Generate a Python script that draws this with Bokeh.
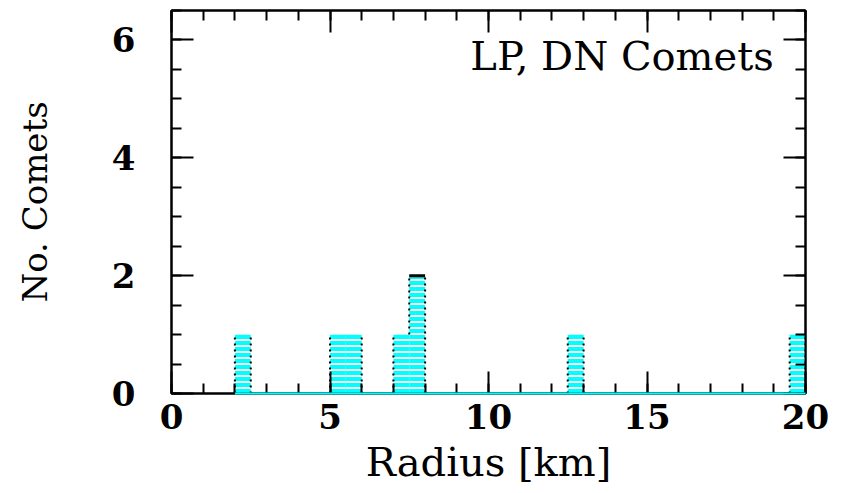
from bokeh.plotting import figure
from bokeh.models import LinearAxis, FixedTicker, Range1d, Label, ColumnDataSource
from bokeh.embed import file_html
from bokeh.resources import INLINE

# ---- data ----
bin_left = [2.0, 5.0, 5.5, 7.0, 7.5, 12.5, 19.5]
counts = [1, 1, 1, 1, 2, 1, 1]
bin_width = 0.5
x_major = [0, 5, 10, 15, 20]
y_major = [0, 2, 4, 6]
title_text = "LP, DN Comets"
x_label = "Radius [km]"
y_label = "No. Comets"

CYAN = "#00ffff"
FONT = "DejaVu Serif"

p = figure(width=840, height=490, output_backend="svg", toolbar_location=None,
           x_range=Range1d(0, 20), y_range=Range1d(0, 6.5),
           min_border_left=171, min_border_right=35, min_border_top=10, min_border_bottom=97)
p.grid.visible = False
p.outline_line_color = "black"
p.outline_line_width = 2
p.background_fill_color = "white"
p.border_fill_color = "white"

# histogram bars
right = [b + bin_width for b in bin_left]
src = ColumnDataSource(dict(left=bin_left, right=right, top=counts, bottom=[0] * len(counts)))
p.quad(left="left", right="right", top="top", bottom="bottom", source=src,
       fill_color=CYAN, line_color=None,
       hatch_pattern="horizontal_line", hatch_color="white", hatch_weight=2, hatch_scale=6)

# step outline of full histogram (0.5 bins over 0..20)
nb = int(20 / bin_width)
full = [0] * nb
for b, c in zip(bin_left, counts):
    full[int(round(b / bin_width))] = c
edges = [i * bin_width for i in range(nb + 1)]
vx, vy0, vy1 = [], [], []
for i in range(nb + 1):
    cl = full[i - 1] if i > 0 else 0
    cr = full[i] if i < nb else 0
    if cl != cr:
        vx.append(edges[i]); vy0.append(min(cl, cr)); vy1.append(max(cl, cr))
p.segment(x0=vx, y0=vy0, x1=vx, y1=vy1, line_color="black", line_width=2, line_dash="2 4")

# black top on tallest bin
mx = max(counts)
tx0 = [b for b, c in zip(bin_left, counts) if c == mx]
tx1 = [b + bin_width for b in tx0]
p.segment(x0=tx0, y0=[mx] * len(tx0), x1=tx1, y1=[mx] * len(tx0), line_color="black", line_width=3)

# cyan baseline between first and last bin
first = bin_left[0]
last = bin_left[-1] + bin_width
p.segment(x0=[first], y0=[0], x1=[last], y1=[0], line_color=CYAN, line_width=2, level="overlay")

minor_x = list(range(0, 21))
minor_y = [i * 0.5 for i in range(14)]


def style(ax, ticks, minor, labels=True, major_len=22, minor_len=10):
    ax.ticker = FixedTicker(ticks=ticks, minor_ticks=minor)
    ax.major_tick_in = major_len
    ax.major_tick_out = 0
    ax.minor_tick_in = minor_len
    ax.minor_tick_out = 0
    ax.major_tick_line_width = 2
    ax.minor_tick_line_width = 2
    ax.axis_line_width = 2
    ax.major_tick_line_color = "black"
    ax.minor_tick_line_color = "black"
    ax.axis_line_color = "black"
    if labels:
        ax.major_label_text_font = FONT
        ax.major_label_text_font_size = "34px"
        ax.major_label_text_font_style = "bold"
        ax.major_label_text_color = "black"
    else:
        ax.major_label_overrides = {t: "" for t in ticks}
        ax.major_label_standoff = 0


xa = p.xaxis[0]
style(xa, x_major, minor_x)
xa.major_label_standoff = 10
xa.axis_label = x_label
xa.axis_label_text_font = FONT
xa.axis_label_text_font_size = "40px"
xa.axis_label_text_font_style = "normal"
xa.axis_label_text_color = "black"
xa.axis_label_standoff = 7

ya = p.yaxis[0]
style(ya, y_major, minor_y)
ya.major_label_standoff = 36
ya.major_label_orientation = "horizontal"
ya.axis_label = y_label
ya.axis_label_text_font = FONT
ya.axis_label_text_font_size = "34px"
ya.axis_label_text_font_style = "normal"
ya.axis_label_text_color = "black"
ya.axis_label_standoff = 54

top_ax = LinearAxis()
style(top_ax, x_major, minor_x, labels=False)
p.add_layout(top_ax, "above")
right_ax = LinearAxis()
style(right_ax, y_major, minor_y, labels=False)
p.add_layout(right_ax, "right")

p.add_layout(Label(x=19.0, y=6.12, text=title_text, text_align="right", text_baseline="top",
                   text_font=FONT, text_font_size="40px", text_color="black"))

open("out.html", "w").write(file_html(p, INLINE))
